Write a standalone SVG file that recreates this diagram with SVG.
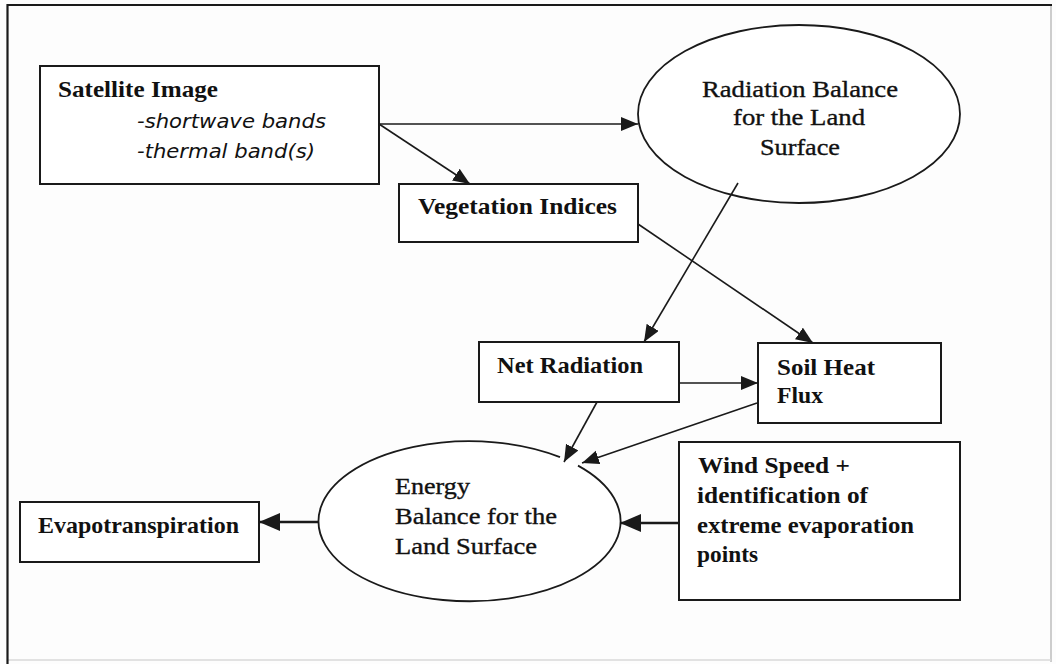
<svg xmlns="http://www.w3.org/2000/svg" width="1056" height="664" viewBox="0 0 1056 664">
<style>
.box{fill:#fff;stroke:#1a1a1a;stroke-width:2}
.ell{fill:#fff;stroke:#1a1a1a;stroke-width:1.8}
.t{font-family:"Liberation Serif","Times New Roman",serif;font-size:23px;fill:#111}
.r{stroke:#111;stroke-width:0.35}
.b{font-weight:bold}
.it{font-family:"DejaVu Sans","Liberation Sans",sans-serif;font-style:italic;font-size:19px;fill:#111}
.c{fill:none;stroke:#1a1a1a;stroke-width:1.6}
.ct{fill:none;stroke:#1a1a1a;stroke-width:2.6}
</style>
<defs>
<marker id="a" markerUnits="userSpaceOnUse" markerWidth="18" markerHeight="15" refX="17" refY="7" orient="auto" viewBox="0 0 18 15">
<path d="M0,0 L17,7 L0,14 z" fill="#1a1a1a"/>
</marker>
<marker id="ab" markerUnits="userSpaceOnUse" markerWidth="22" markerHeight="19" refX="21" refY="9" orient="auto" viewBox="0 0 22 19">
<path d="M0,0 L21,9 L0,18 z" fill="#1a1a1a"/>
</marker>
</defs>
<rect x="0" y="0" width="1056" height="664" fill="#fdfdfd"/>
<g id="frame">
<line x1="1051" y1="5" x2="1051" y2="662" stroke="#bdbdbd" stroke-width="1.5"/>
<line x1="7" y1="660" x2="1051" y2="660" stroke="#d8d8d8" stroke-width="1.5"/>
<line x1="7" y1="5" x2="1052" y2="5" stroke="#1a1a1a" stroke-width="2.2"/>
<line x1="7.5" y1="4" x2="7.5" y2="664" stroke="#1a1a1a" stroke-width="2.2"/>
</g>
<g id="satellite">
<rect class="box" x="40" y="66" width="339" height="118"/>
<text class="t b" x="58" y="97" textLength="160" lengthAdjust="spacingAndGlyphs">Satellite Image</text>
<text class="it" x="137" y="128" textLength="189" lengthAdjust="spacingAndGlyphs">-shortwave bands</text>
<text class="it" x="137" y="158" textLength="178" lengthAdjust="spacingAndGlyphs">-thermal band(s)</text>
</g>
<g id="radiation">
<ellipse class="ell" cx="799" cy="114" rx="161" ry="89"/>
<text class="t r" x="702" y="97" textLength="196" lengthAdjust="spacingAndGlyphs">Radiation Balance</text>
<text class="t r" x="733" y="125" textLength="132" lengthAdjust="spacingAndGlyphs">for the Land</text>
<text class="t r" x="760" y="155" textLength="80" lengthAdjust="spacingAndGlyphs">Surface</text>
</g>
<g id="vegetation">
<rect class="box" x="399" y="184" width="239" height="58"/>
<text class="t b" x="418" y="214" textLength="199" lengthAdjust="spacingAndGlyphs">Vegetation Indices</text>
</g>
<g id="net">
<rect class="box" x="479" y="342" width="200" height="60"/>
<text class="t b" x="497" y="373" textLength="146" lengthAdjust="spacingAndGlyphs">Net Radiation</text>
</g>
<g id="soil">
<rect class="box" x="758" y="343" width="183" height="80"/>
<text class="t b" x="777" y="375" textLength="98" lengthAdjust="spacingAndGlyphs">Soil Heat</text>
<text class="t b" x="777" y="403" textLength="46" lengthAdjust="spacingAndGlyphs">Flux</text>
</g>
<g id="energy">
<path class="ell" d="M578,465.6 A151,80 0 1 1 560,457.2"/>
<text class="t r" x="395" y="494" textLength="75" lengthAdjust="spacingAndGlyphs">Energy</text>
<text class="t r" x="395" y="524" textLength="162" lengthAdjust="spacingAndGlyphs">Balance for the</text>
<text class="t r" x="395" y="554" textLength="142" lengthAdjust="spacingAndGlyphs">Land Surface</text>
</g>
<g id="wind">
<rect class="box" x="679" y="442" width="281" height="158"/>
<text class="t b" x="698" y="473" textLength="152" lengthAdjust="spacingAndGlyphs">Wind Speed +</text>
<text class="t b" x="697" y="503" textLength="171" lengthAdjust="spacingAndGlyphs">identification of</text>
<text class="t b" x="697" y="533" textLength="217" lengthAdjust="spacingAndGlyphs">extreme evaporation</text>
<text class="t b" x="697" y="562" textLength="61" lengthAdjust="spacingAndGlyphs">points</text>
</g>
<g id="evapo">
<rect class="box" x="20" y="502" width="239" height="60"/>
<text class="t b" x="38" y="533" textLength="201" lengthAdjust="spacingAndGlyphs">Evapotranspiration</text>
</g>
<g id="connectors">
<path class="c" d="M379,124 H638" marker-end="url(#a)"/>
<path class="c" d="M379,124 L470,184" marker-end="url(#a)"/>
<path class="c" d="M738,183 L644,342" marker-end="url(#a)"/>
<path class="c" d="M638,224 L813,343" marker-end="url(#a)"/>
<path class="c" d="M679,383 H758" marker-end="url(#a)"/>
<path class="c" d="M597,402 L564,462" marker-end="url(#a)"/>
<path class="c" d="M757,403 L582,463" marker-end="url(#a)"/>
<path class="ct" d="M679,523 H620" marker-end="url(#ab)"/>
<path class="ct" d="M318,522 H259" marker-end="url(#ab)"/>
</g>
</svg>
